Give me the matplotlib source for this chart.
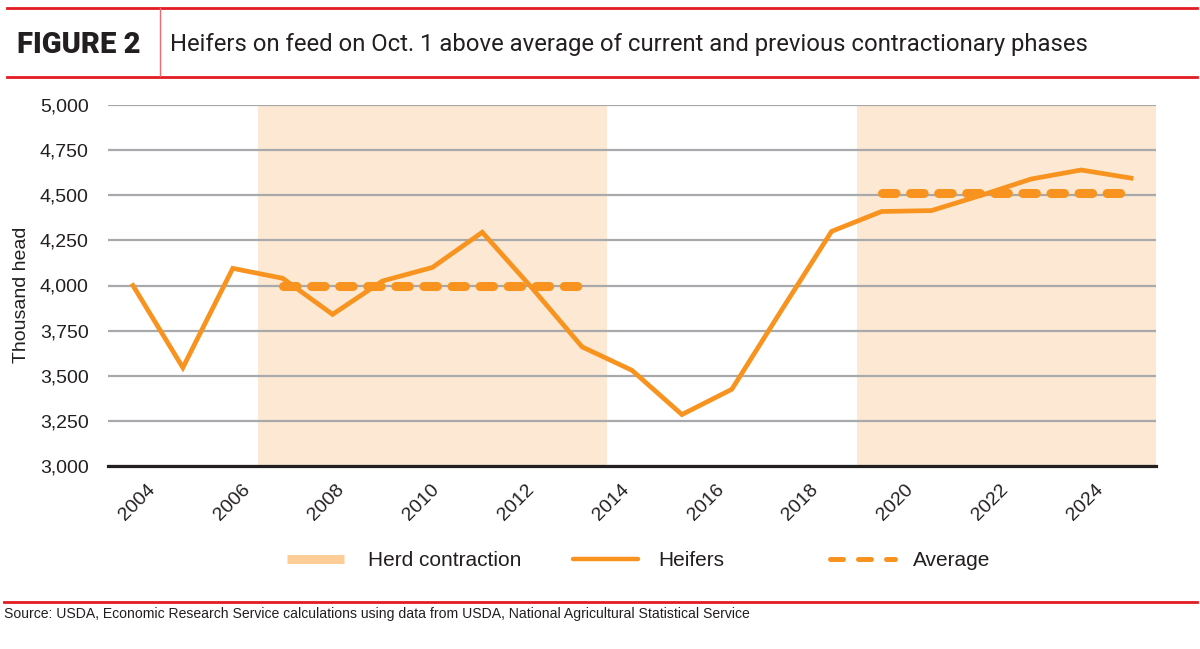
import matplotlib
matplotlib.use("Agg")
import matplotlib.pyplot as plt
from matplotlib.lines import Line2D

# --- data ---
years = list(range(2004, 2025))
heifers = [4000, 3545, 4095, 4040, 3840, 4025, 4100, 4295, 3985, 3660, 3530,
           3285, 3425, 3865, 4300, 4410, 4415, 4500, 4590, 4640, 4595]
contraction_phases = [(2007, 2013), (2019, 2024)]
phase_averages = [4000, 4510]
y_ticks = [3000, 3250, 3500, 3750, 4000, 4250, 4500, 4750, 5000]
x_tick_years = years[::2]
legend_labels = ["Herd contraction", "Heifers", "Average"]

title = "Heifers on feed on Oct. 1 above average of current and previous contractionary phases"
source = ("Source: USDA, Economic Research Service calculations using data from USDA, "
          "National Agricultural Statistical Service")

ORANGE = "#f7931e"
SHADE = "#fde9d3"
SHADE_KEY = "#fccd96"
RED = "#e31b23"
GRID = "#a7a9ac"
INK = "#231f20"
BODY = ["Liberation Sans", "DejaVu Sans"]
HEAD = ["Roboto", "DejaVu Sans"]

W, H = 1200, 649
fig = plt.figure(figsize=(W / 100, H / 100), dpi=100)


def fx(x):
    return x / W


def fy(y):
    return 1 - y / H


def fit(t, width_px):
    r = fig.canvas.get_renderer()
    bb = t.get_window_extent(r)
    t.set_fontsize(t.get_fontsize() * width_px / bb.width)


# --- plot area ---
ax = fig.add_axes([fx(108), fy(466), 1048 / W, 361 / H])
for s, e in contraction_phases:
    ax.axvspan(s - 0.5, e + 0.5, color=SHADE, lw=0, zorder=0.2)
for (s, e), avg in zip(contraction_phases, phase_averages):
    ax.plot([s, e], [avg, avg], color=ORANGE, lw=6.5, dashes=(1.5, 1.61),
            dash_capstyle="round", zorder=3)
ax.plot(years, heifers, color=ORANGE, lw=3.4, solid_joinstyle="miter", zorder=4)

ax.set_xlim(years[0] - 0.5, years[-1] + 0.5)
ax.set_ylim(3000, 5000)
ax.set_yticks(y_ticks)
ax.set_yticklabels([f"{v:,}" for v in y_ticks])
# the source chart spaces its year labels a bit tighter than the data points
ax.set_xticks([years[0] + 0.08 + 0.95 * (y - years[0]) for y in x_tick_years])
ax.set_xticklabels([str(y) for y in x_tick_years], rotation=45, ha="center")
ax.set_axisbelow(True)
ax.yaxis.grid(True, color=GRID, lw=1.6)
for side in ["top", "right", "left"]:
    ax.spines[side].set_visible(False)
ax.spines["bottom"].set_color(INK)
ax.spines["bottom"].set_linewidth(2.3)
ax.spines["bottom"].set_zorder(5)
ax.tick_params(axis="both", length=0, labelsize=14, colors=INK)
ax.tick_params(axis="y", pad=14)
ax.tick_params(axis="x", pad=11)
for lab in ax.get_xticklabels() + ax.get_yticklabels():
    lab.set_family(BODY)

fig.text(fx(22), fy(295), "Thousand head", rotation=90, ha="center", va="center",
         fontsize=14, family=BODY, color=INK)

# --- header ---
fig.add_artist(Line2D([fx(7), fx(1197)], [fy(7.5)] * 2, color=RED, lw=2))
fig.add_artist(Line2D([fx(7), fx(1197)], [fy(76.5)] * 2, color=RED, lw=2))
fig.add_artist(Line2D([fx(160)] * 2, [fy(8), fy(76)], color="#ee6b70", lw=1))
t_fig = fig.text(fx(17), fy(53), "FIGURE 2", ha="left", va="baseline",
                 fontsize=20, weight="black", family=HEAD, color=INK)
t_title = fig.text(fx(170), fy(51), title, ha="left", va="baseline",
                   fontsize=17, family=HEAD, color=INK)

# --- legend ---
fig.add_artist(Line2D([fx(287), fx(344)], [fy(559)] * 2, color=SHADE_KEY, lw=6.5,
                      solid_capstyle="butt"))
fig.add_artist(Line2D([fx(573), fx(638)], [fy(559)] * 2, color=ORANGE, lw=3.2,
                      solid_capstyle="round"))
fig.add_artist(Line2D([fx(829.5), fx(895)], [fy(559)] * 2, color=ORANGE, lw=3.6,
                      dashes=(2.6, 3.0), dash_capstyle="round"))
for x, label in zip([368, 658, 913], legend_labels):
    fig.text(fx(x), fy(566), label, ha="left", va="baseline",
             fontsize=15, family=BODY, color=INK)

# --- source ---
fig.add_artist(Line2D([fx(4), fx(1197)], [fy(602)] * 2, color=RED, lw=2))
t_src = fig.text(fx(4), fy(618), source, ha="left", va="baseline",
                 fontsize=10, family=BODY, color=INK)

fig.canvas.draw()
fit(t_fig, 123)
fit(t_title, 918)
fit(t_src, 744)

fig.savefig("out.png", dpi=100)
